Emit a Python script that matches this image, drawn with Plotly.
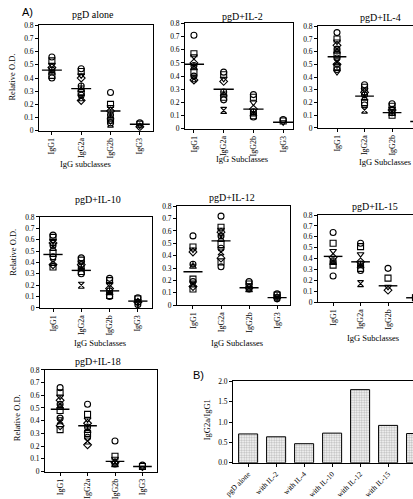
import plotly.graph_objects as go

W, H = 413, 499
subclasses = ["IgG1", "IgG2a", "IgG2b", "IgG3"]

# ---- data (Relative O.D.) ----
pgd_alone = [[0.56, 0.53, 0.50, 0.48, 0.46, 0.44, 0.42, 0.40],
             [0.47, 0.45, 0.42, 0.40, 0.34, 0.31, 0.29, 0.27, 0.25, 0.23],
             [0.29, 0.20, 0.18, 0.15, 0.12, 0.10, 0.08, 0.06, 0.05],
             [0.06, 0.05, 0.04, 0.03]]
pgd_alone_mean = [0.46, 0.32, 0.15, 0.05]

pgd_il2 = [[0.71, 0.57, 0.55, 0.50, 0.48, 0.46, 0.43, 0.40, 0.38, 0.37],
           [0.43, 0.41, 0.38, 0.36, 0.28, 0.26, 0.24, 0.22, 0.14],
           [0.26, 0.24, 0.20, 0.15, 0.13, 0.11, 0.10, 0.09],
           [0.07, 0.06, 0.05]]
pgd_il2_mean = [0.49, 0.30, 0.15, 0.05]

pgd_il4 = [[0.75, 0.70, 0.68, 0.65, 0.62, 0.60, 0.58, 0.55, 0.52, 0.50, 0.48, 0.46, 0.44],
           [0.34, 0.32, 0.30, 0.28, 0.26, 0.23, 0.20, 0.18, 0.14],
           [0.19, 0.17, 0.15, 0.14, 0.12, 0.11, 0.10],
           [0.06, 0.05, 0.04]]
pgd_il4_mean = [0.56, 0.25, 0.12, 0.05]

pgd_il10 = [[0.64, 0.62, 0.59, 0.57, 0.55, 0.52, 0.48, 0.45, 0.40, 0.38, 0.36],
            [0.44, 0.42, 0.40, 0.38, 0.36, 0.34, 0.32, 0.30, 0.20],
            [0.26, 0.24, 0.21, 0.17, 0.15, 0.13, 0.11, 0.10],
            [0.09, 0.08, 0.06, 0.05, 0.03]]
pgd_il10_mean = [0.47, 0.33, 0.15, 0.06]

pgd_il12 = [[0.56, 0.47, 0.45, 0.43, 0.33, 0.31, 0.21, 0.19, 0.17, 0.15, 0.13],
            [0.72, 0.63, 0.61, 0.59, 0.56, 0.53, 0.49, 0.46, 0.43, 0.38, 0.35, 0.31],
            [0.19, 0.17, 0.16, 0.14, 0.13, 0.12],
            [0.09, 0.08, 0.07, 0.06, 0.05]]
pgd_il12_mean = [0.27, 0.52, 0.14, 0.06]

pgd_il15 = [[0.64, 0.54, 0.47, 0.41, 0.38, 0.36, 0.34, 0.24],
            [0.54, 0.51, 0.44, 0.37, 0.35, 0.33, 0.31, 0.29, 0.17],
            [0.31, 0.22, 0.14, 0.11],
            [0.05, 0.04, 0.03]]
pgd_il15_mean = [0.42, 0.37, 0.15, 0.04]

pgd_il18 = [[0.66, 0.62, 0.59, 0.56, 0.53, 0.51, 0.48, 0.42, 0.40, 0.36, 0.33],
            [0.53, 0.45, 0.41, 0.38, 0.35, 0.32, 0.30, 0.27, 0.24, 0.21],
            [0.24, 0.12, 0.10, 0.07, 0.06, 0.05],
            [0.05, 0.04, 0.03]]
pgd_il18_mean = [0.49, 0.36, 0.08, 0.04]

ratio_groups = ["pgD alone", "with IL-2", "with IL-4", "with IL-10",
                "with IL-12", "with IL-15", "with IL-18"]
ratio_values = [0.71, 0.64, 0.47, 0.73, 1.80, 0.92, 0.72]

titles = ["pgD alone", "pgD+IL-2", "pgD+IL-4", "pgD+IL-10",
          "pgD+IL-12", "pgD+IL-15", "pgD+IL-18"]
panels_data = [pgd_alone, pgd_il2, pgd_il4, pgd_il10, pgd_il12, pgd_il15, pgd_il18]
panels_mean = [pgd_alone_mean, pgd_il2_mean, pgd_il4_mean, pgd_il10_mean,
               pgd_il12_mean, pgd_il15_mean, pgd_il18_mean]

# ---- layout geometry (pixels): left, right, top, bottom, x-range ----
geom = [
    (39, 153, 22, 131, [-0.44, 3.45]),
    (185, 293, 20, 129, [-0.30, 3.33]),
    (318, 413, 23, 128, [-0.69, 2.76]),
    (40, 152, 220, 314, [-0.46, 3.50]),
    (177, 290, 209, 311, [-0.57, 3.46]),
    (318, 413, 218, 308, [-0.55, 2.91]),
    (45, 157, 378, 483, [-0.55, 3.53]),
]
geomB = (233, 413, 390, 474, [-0.54, 5.89])

symbols = ["circle-open", "square-open", "triangle-down-open", "diamond-open",
           "circle-cross-open", "triangle-up-open", "square-open", "circle-open",
           "hourglass-open", "diamond-open", "square-open", "circle-open", "triangle-down-open"]

SERIF = "Liberation Serif"
fig = go.Figure()

def px2x(p):
    return p / W

def px2y(p):
    return 1 - p / H

axis_common = dict(showline=True, linecolor="black", linewidth=1, ticks="outside",
                   ticklen=3, tickcolor="black", showgrid=False, zeroline=False,
                   fixedrange=True)

for k, (data, means) in enumerate(zip(panels_data, panels_mean)):
    n = k + 1
    xa = "x" if n == 1 else f"x{n}"
    ya = "y" if n == 1 else f"y{n}"
    for i, vals in enumerate(data):
        fig.add_trace(go.Scatter(
            x=[i] * len(vals), y=vals, mode="markers", xaxis=xa, yaxis=ya,
            marker=dict(symbol=[symbols[j % len(symbols)] for j in range(len(vals))],
                        size=6, color="black", line=dict(width=1.1, color="black")),
            showlegend=False, hoverinfo="skip"))
    mx, my = [], []
    for i, m in enumerate(means):
        mx += [i - 0.34, i + 0.34, None]
        my += [m, m, None]
    fig.add_trace(go.Scatter(x=mx, y=my, mode="lines", xaxis=xa, yaxis=ya,
                             line=dict(color="black", width=1.4),
                             showlegend=False, hoverinfo="skip"))
    L, R, T, B, xr = geom[k]
    right_edge = R >= W
    fig.layout[f"xaxis{'' if n == 1 else n}"] = dict(
        axis_common, domain=[px2x(L), min(px2x(R), 1)], range=xr, anchor=ya,
        tickmode="array", tickvals=list(range(4)), ticktext=subclasses,
        tickangle=-90, mirror=True,
        tickfont=dict(family=SERIF, size=8, color="black"))
    fig.layout[f"yaxis{'' if n == 1 else n}"] = dict(
        axis_common, domain=[px2y(B), px2y(T)], range=[0, 0.8], anchor=xa,
        dtick=0.1, tick0=0, mirror=(not right_edge),
        tickfont=dict(family=SERIF, size=7.5, color="black"))

# ---- panel B ----
fig.add_trace(go.Bar(
    x=list(range(len(ratio_groups))), y=ratio_values, xaxis="x8", yaxis="y8",
    marker=dict(color="white", line=dict(color="black", width=1),
                pattern=dict(shape=".", fgcolor="#777777", bgcolor="#ffffff",
                             size=2.5, solidity=0.5)),
    width=0.68, showlegend=False, hoverinfo="skip"))
L, R, T, B, xr = geomB
fig.layout["xaxis8"] = dict(
    axis_common, domain=[px2x(L), 1], range=xr, anchor="y8",
    tickmode="array", tickvals=list(range(len(ratio_groups))), ticktext=ratio_groups,
    tickangle=-45, mirror=True, automargin=False,
    tickfont=dict(family=SERIF, size=7.5, color="black"))
fig.layout["yaxis8"] = dict(
    axis_common, domain=[px2y(B), px2y(T)], range=[0, 2.0], anchor="x8",
    dtick=0.5, tickformat=".1f", mirror=False,
    tickfont=dict(family=SERIF, size=7.5, color="black"))

# ---- annotations ----
ann = []

def add_text(txt, x, y, size=8.5, family=SERIF, angle=0):
    ann.append(dict(text=txt, x=px2x(x), y=px2y(y), xref="paper", yref="paper",
                    showarrow=False, xanchor="center", yanchor="middle",
                    textangle=angle, font=dict(family=family, size=size, color="black")))

add_text("A)", 27, 8, size=11, family="Liberation Sans")
add_text("B)", 198, 383, size=11, family="Liberation Sans")
title_pos = [(93, 11), (242, 13), (380, 14), (98, 202), (232, 200), (375, 209), (98, 369)]
for t, (x, y) in zip(titles, title_pos):
    add_text(t, x, y, size=10)
xt = [("IgG subclasses", 85, 165), ("IgG Subclasses", 242, 160),
      ("IgG Subclasses", 385, 163), ("IgG Subclasses", 100, 350),
      ("IgG Subclasses", 237, 350), ("IgG Subclasses", 373, 345)]
for t, x, y in xt:
    add_text(t, x, y, size=8.5)
for x, y in [(12, 76), (13, 257), (17, 428)]:
    add_text("Relative O.D.", x, y, size=8.5, angle=-90)
add_text("IgG2a/IgG1", 207, 430, size=8.5, angle=-90)

fig.update_layout(
    width=W, height=H, margin=dict(l=0, r=0, t=0, b=0),
    paper_bgcolor="white", plot_bgcolor="white",
    annotations=ann, bargap=0.32,
)

fig.write_html("out.html", config={"displayModeBar": False})
